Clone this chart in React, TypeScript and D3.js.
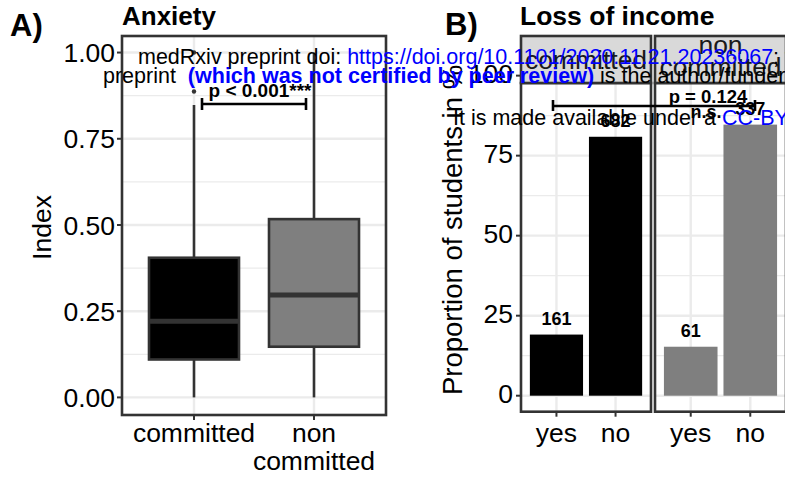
import React from "react";
import * as d3 from "d3";

// panel A: anxiety index by group
const boxGroups = ["committed", "non committed"];
const boxLow = [0, 0];
const boxQ1 = [0.11, 0.147];
const boxMedian = [0.221, 0.297];
const boxQ3 = [0.405, 0.517];
const boxHigh = [0.848, 1.0];
const boxOutliers = [[0.887, 1.0], []];
const boxTicks = [0, 0.25, 0.5, 0.75, 1];

// panel B: loss of income
const facets = ["committed", "non committed"];
const answers = ["yes", "no"];
const percents = [[19.1, 80.9], [15.3, 84.7]];
const counts = [[161, 682], [61, 337]];
const barTicks = [0, 25, 50, 75, 100];

const groupColors = ["#000000", "#7F7F7F"];

// medRxiv header overlay
const header1 = [
  { t: "medRxiv preprint doi: ", c: "#000", b: false },
  { t: "https://doi.org/10.1101/2020.11.21.20236067", c: "#0000FF", b: false },
  { t: "; this version posted November 24, 2020.", c: "#000", b: false },
];
const header2 = [
  { t: "preprint  ", c: "#000", b: false },
  { t: "(which was not certified by peer review)", c: "#0000FF", b: true },
  { t: " is the author/funder, who has granted", c: "#000", b: false },
];
const header3 = [
  { t: "It is made available under a ", c: "#000", b: false },
  { t: "CC-BY 4.0 International license", c: "#0000FF", b: false },
];

const FONT = "'Liberation Sans', Arial, Helvetica, sans-serif";
const DARK = "#333333";
const GRID = "#EBEBEB";

const App = () => {
  // ---- panel A scales
  const aLeft = 122, aRight = 386, aTop = 36, aBottom = 415;
  const xa = d3.scalePoint().domain(boxGroups).range([aLeft, aRight]).padding(0.6);
  const ya = d3.scaleLinear().domain([-0.051, 1.048]).range([aBottom, aTop]);
  const boxW = xa.step() * 0.75;
  const minorA = boxTicks.slice(0, -1).map((t, i) => (t + boxTicks[i + 1]) / 2);

  // ---- panel B scales
  const bTop = 36, stripBottom = 83, bBottom = 411.7;
  const panelX = [[521, 651], [655, 786]];
  const yb = d3.scaleLinear().domain([-5, 97.7]).range([bBottom, stripBottom]);
  const minorB = barTicks.slice(0, -1).map((t, i) => (t + barTicks[i + 1]) / 2);

  const axisText = { fontFamily: FONT, fontSize: 26.5, fill: "#000" };

  return (
    <svg width={785} height={479} style={{ position: "absolute", left: 0, top: 0, background: "#fff" }}>
      <rect width={785} height={479} fill="#fff" />

      {/* ===== Panel A ===== */}
      <text x={10} y={36} fontFamily={FONT} fontWeight="bold" fontSize={31}>A)</text>
      <text x={122} y={25} fontFamily={FONT} fontWeight="bold" fontSize={26}>Anxiety</text>
      <g>
        {minorA.map((t) => (
          <line key={"mi" + t} x1={aLeft} x2={aRight} y1={ya(t)} y2={ya(t)} stroke={GRID} strokeWidth={1.2} />
        ))}
        {boxTicks.map((t) => (
          <line key={"ma" + t} x1={aLeft} x2={aRight} y1={ya(t)} y2={ya(t)} stroke={GRID} strokeWidth={2.4} />
        ))}
        {boxGroups.map((g) => (
          <line key={"vg" + g} x1={xa(g)} x2={xa(g)} y1={aTop} y2={aBottom} stroke={GRID} strokeWidth={2.4} />
        ))}
        {boxGroups.map((g, i) => {
          const cx = xa(g) as number;
          return (
            <g key={"box" + g}>
              <line x1={cx} x2={cx} y1={ya(boxLow[i])} y2={ya(boxQ1[i])} stroke={DARK} strokeWidth={2.6} />
              <line x1={cx} x2={cx} y1={ya(boxQ3[i])} y2={ya(boxHigh[i])} stroke={DARK} strokeWidth={2.6} />
              <rect x={cx - boxW / 2} y={ya(boxQ3[i])} width={boxW} height={ya(boxQ1[i]) - ya(boxQ3[i])}
                fill={groupColors[i]} stroke={DARK} strokeWidth={2.6} />
              <line x1={cx - boxW / 2} x2={cx + boxW / 2} y1={ya(boxMedian[i])} y2={ya(boxMedian[i])} stroke={DARK} strokeWidth={5} />
              {boxOutliers[i].map((o) => (
                <circle key={o} cx={cx} cy={ya(o)} r={2.2} fill={DARK} />
              ))}
            </g>
          );
        })}
        <rect x={aLeft} y={aTop} width={aRight - aLeft} height={aBottom - aTop} fill="none" stroke={DARK} strokeWidth={2.6} />
        {boxTicks.map((t) => (
          <g key={"ta" + t}>
            <line x1={aLeft - 5} x2={aLeft} y1={ya(t)} y2={ya(t)} stroke={DARK} strokeWidth={2} />
            <text x={aLeft - 7} y={ya(t)} dy="0.36em" textAnchor="end" {...axisText}>{d3.format(".2f")(t)}</text>
          </g>
        ))}
        {boxGroups.map((g) => (
          <line key={"tx" + g} x1={xa(g)} x2={xa(g)} y1={aBottom} y2={aBottom + 5} stroke={DARK} strokeWidth={2} />
        ))}
        <text x={xa("committed")} y={442} textAnchor="middle" {...axisText}>committed</text>
        <text x={xa("non committed")} y={442} textAnchor="middle" {...axisText}>non</text>
        <text x={xa("non committed")} y={470} textAnchor="middle" {...axisText}>committed</text>
        <text transform={`translate(51,${(aTop + aBottom) / 2 + 2}) rotate(-90)`} textAnchor="middle" {...axisText}>Index</text>

        {/* significance bracket */}
        <line x1={202} x2={306} y1={104} y2={104} stroke="#000" strokeWidth={2.6} />
        <line x1={202} x2={202} y1={98} y2={110} stroke="#000" strokeWidth={2.6} />
        <line x1={306} x2={306} y1={98} y2={110} stroke="#000" strokeWidth={2.6} />
        <text x={260} y={97} textAnchor="middle" fontFamily={FONT} fontWeight="bold" fontSize={19}>p &lt; 0.001***</text>
      </g>

      {/* ===== Panel B ===== */}
      <text x={445} y={35} fontFamily={FONT} fontWeight="bold" fontSize={31}>B)</text>
      <text x={520} y={25} fontFamily={FONT} fontWeight="bold" fontSize={26.5}>Loss of income</text>
      <g>
        {facets.map((f, fi) => {
          const [l, r] = panelX[fi];
          const xc = d3.scalePoint().domain(answers).range([l, r]).padding(0.6);
          return (
            <g key={"facet" + f}>
              {minorB.map((t) => (
                <line key={"mb" + t} x1={l} x2={r} y1={yb(t)} y2={yb(t)} stroke={GRID} strokeWidth={1.2} />
              ))}
              {barTicks.filter((t) => yb(t) > stripBottom).map((t) => (
                <line key={"Mb" + t} x1={l} x2={r} y1={yb(t)} y2={yb(t)} stroke={GRID} strokeWidth={2.4} />
              ))}
              {answers.map((a) => (
                <line key={"vb" + a} x1={xc(a)} x2={xc(a)} y1={stripBottom} y2={bBottom} stroke={GRID} strokeWidth={2.4} />
              ))}
              {answers.map((a, ai) => (
                <g key={"bar" + a}>
                  <rect x={(xc(a) as number) - xc.step() * 0.45} width={xc.step() * 0.9}
                    y={yb(percents[fi][ai])} height={yb(0) - yb(percents[fi][ai])} fill={groupColors[fi]} />
                  <text x={xc(a)} y={yb(percents[fi][ai]) - 10} textAnchor="middle" fontFamily={FONT}
                    fontWeight="bold" fontSize={18} fill="#000">{counts[fi][ai]}</text>
                  <line x1={xc(a)} x2={xc(a)} y1={bBottom} y2={bBottom + 5} stroke={DARK} strokeWidth={2} />
                  <text x={xc(a)} y={442} textAnchor="middle" {...axisText}>{a}</text>
                </g>
              ))}
              <rect x={l} y={stripBottom} width={r - l} height={bBottom - stripBottom} fill="none" stroke={DARK} strokeWidth={2.6} />
              <rect x={l} y={bTop} width={r - l} height={stripBottom - bTop} fill="#D9D9D9" stroke={DARK} strokeWidth={2.6} />
              {f === "committed" ? (
                <text x={(l + r) / 2} y={69} textAnchor="middle" {...axisText} fill="#1A1A1A">committed</text>
              ) : (
                <>
                  <text x={(l + r) / 2} y={54} textAnchor="middle" {...axisText} fill="#1A1A1A">non</text>
                  <text x={(l + r) / 2} y={76} textAnchor="middle" {...axisText} fill="#1A1A1A">committed</text>
                </>
              )}
            </g>
          );
        })}
        {barTicks.map((t) => (
          <g key={"tb" + t}>
            <line x1={516} x2={521} y1={yb(t)} y2={yb(t)} stroke={DARK} strokeWidth={2} />
            <text x={513} y={yb(t) - 2} dy="0.36em" textAnchor="end" {...axisText}>{t}</text>
          </g>
        ))}
        <text transform={`translate(462,230) rotate(-90)`} textAnchor="middle" {...axisText} fontSize={27.5}>Proportion of students in %</text>

        {/* significance bracket */}
        <line x1={553} x2={755} y1={106} y2={106} stroke="#000" strokeWidth={2.6} />
        <line x1={553} x2={553} y1={100} y2={111} stroke="#000" strokeWidth={2.6} />
        <line x1={755} x2={755} y1={100} y2={111} stroke="#000" strokeWidth={2.6} />
        <text x={708} y={103} textAnchor="middle" fontFamily={FONT} fontWeight="bold" fontSize={18.5}>p = 0.124</text>
        <text x={706} y={118} textAnchor="middle" fontFamily={FONT} fontWeight="bold" fontSize={18}>n.s.</text>
      </g>

      {/* ===== medRxiv header overlay ===== */}
      <text x={138} y={64} fontFamily={FONT} fontSize={21.5}>
        {header1.map((s, i) => (
          <tspan key={i} fill={s.c} fontWeight={s.b ? "bold" : "normal"}>{s.t}</tspan>
        ))}
      </text>
      <text x={103} y={83} fontFamily={FONT} fontSize={21.5} style={{ whiteSpace: "pre" }}>
        {header2.map((s, i) => (
          <tspan key={i} fill={s.c} fontWeight={s.b ? "bold" : "normal"}>{s.t}</tspan>
        ))}
      </text>
      <text x={453} y={125} fontFamily={FONT} fontSize={21.5}>
        {header3.map((s, i) => (
          <tspan key={i} fill={s.c} fontWeight={s.b ? "bold" : "normal"}>{s.t}</tspan>
        ))}
      </text>
    </svg>
  );
};

export default App;
